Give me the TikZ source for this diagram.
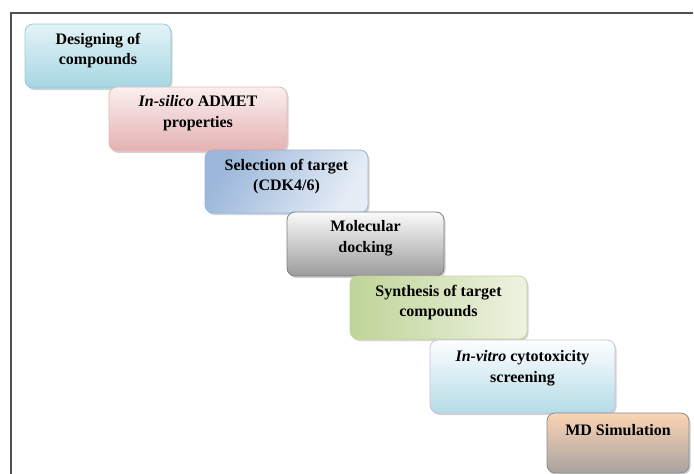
\documentclass[tikz,border=0pt]{standalone}
\usepackage{fontspec}
\setmainfont{Liberation Serif}
\usetikzlibrary{shadows}
\definecolor{cyanA}{HTML}{E4F3F7}
\definecolor{cyanB}{HTML}{A5D6E2}
\definecolor{cyanL}{HTML}{93CDDD}
\definecolor{pinkA}{HTML}{FBEFEF}
\definecolor{pinkB}{HTML}{E3B2B1}
\definecolor{pinkL}{HTML}{E6B9B8}
\definecolor{blueA}{HTML}{E6EDF6}
\definecolor{blueB}{HTML}{9BB7DA}
\definecolor{blueL}{HTML}{95B3D7}
\definecolor{grayA}{HTML}{FAFAFA}
\definecolor{grayB}{HTML}{9C9C9C}
\definecolor{grayL}{HTML}{7F7F7F}
\definecolor{greenA}{HTML}{BFD497}
\definecolor{greenB}{HTML}{EEF3E2}
\definecolor{greenL}{HTML}{C3D69B}
\definecolor{vitA}{HTML}{FDFEFF}
\definecolor{vitB}{HTML}{B4DCE6}
\definecolor{vitL}{HTML}{CCC0DA}
\definecolor{mdA}{HTML}{FBD4B4}
\definecolor{mdB}{HTML}{A8A3A0}
\definecolor{mdL}{HTML}{8C8C8C}
\definecolor{frameC}{HTML}{505050}
\tikzset{
  stepbox/.style={rounded corners=8pt, line width=0.8pt, inner sep=0pt,
    drop shadow={shadow xshift=1.5pt, shadow yshift=-2pt, opacity=0.35}},
  steptext/.style={anchor=north, align=center, inner sep=0pt,
    font=\fontsize{16}{20.5}\selectfont\bfseries},
}
\begin{document}
\begin{tikzpicture}[x=1pt,y=-1pt]
\useasboundingbox (0,0) rectangle (694,474);
\draw[frameC, line width=1.4pt] (11,474) -- (11,13) -- (693,13);

\node[stepbox, draw=cyanL, top color=cyanA, bottom color=cyanB,
  minimum width=146pt, minimum height=64pt] (b1) at (98,56) {};
\node[steptext] (t1) at ([yshift=-9pt]b1.north) {Designing of\\compounds};

\node[stepbox, draw=pinkL, top color=pinkA, bottom color=pinkB,
  minimum width=178pt, minimum height=64pt] (b2) at (198,119) {};
\node[steptext] (t2) at ([yshift=-9pt]b2.north) {\textit{In-silico} ADMET\\properties};

\node[stepbox, draw=blueL, left color=blueB, right color=blueA, shading angle=60,
  minimum width=163pt, minimum height=63pt] (b3) at (286.5,181.5) {};
\node[steptext] (t3) at ([yshift=-9pt]b3.north) {Selection of target\\(CDK4/6)};

\node[stepbox, draw=grayL, top color=grayA, bottom color=grayB,
  minimum width=157pt, minimum height=64pt] (b4) at (365.5,244) {};
\node[steptext] (t4) at ([yshift=-9pt]b4.north) {Molecular\\docking};

\node[stepbox, draw=greenL, left color=greenA, right color=greenB,
  minimum width=177pt, minimum height=63pt] (b5) at (438.5,307.5) {};
\node[steptext] (t5) at ([yshift=-9pt]b5.north) {Synthesis of target\\compounds};

\node[stepbox, draw=vitL, top color=vitA, bottom color=vitB,
  minimum width=185pt, minimum height=73pt] (b6) at (522.5,376.5) {};
\node[steptext] (t6) at ([yshift=-11pt]b6.north) {\textit{In-vitro} cytotoxicity\\screening};

\node[stepbox, draw=mdL, top color=mdA, bottom color=mdB,
  minimum width=142pt, minimum height=60pt] (b7) at (618,443) {};
\node[steptext] (t7) at ([yshift=-12pt]b7.north) {MD Simulation};
\end{tikzpicture}
\end{document}
